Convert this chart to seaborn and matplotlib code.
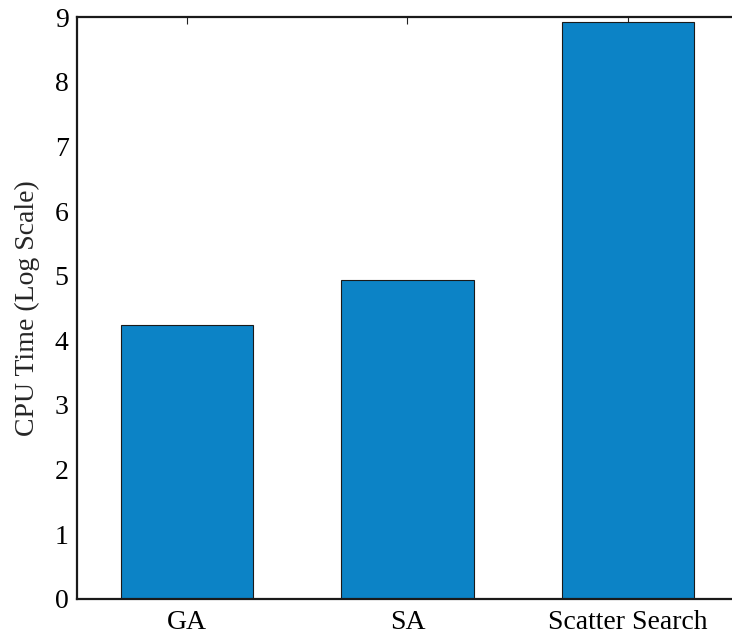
import matplotlib
matplotlib.use("Agg")
import matplotlib.pyplot as plt
import seaborn as sns
import pandas as pd

methods = ["GA", "SA", "Scatter Search"]
cpu_time_log = [4.23, 4.94, 8.93]
y_ticks = [0, 1, 2, 3, 4, 5, 6, 7, 8, 9]

sns.set_style("white")
plt.rcParams["font.family"] = ["Liberation Serif", "DejaVu Serif"]

df = pd.DataFrame({"method": methods, "time": cpu_time_log})

fig = plt.figure(figsize=(7.32, 6.38), dpi=100)
W, H = 732, 638
ax = fig.add_axes([77 / W, (H - 599) / H, (738 - 77) / W, (599 - 17) / H])

sns.barplot(data=df, x="method", y="time", color="#0C83C6", saturation=1,
            width=0.6, edgecolor="#1a1a1a", linewidth=0.8, ax=ax)

ax.set_xlim(-0.5, 2.5)
ax.set_ylim(0, 9)
ax.set_yticks(y_ticks)
ax.set_xlabel("")
ax.set_ylabel("CPU Time (Log Scale)", fontsize=20, labelpad=11)
ax.tick_params(axis="both", direction="in", length=5, width=0.8,
               labelsize=20, top=True, right=False, colors="#222222",
               labelcolor="black")
ax.tick_params(axis="x", pad=8)
ax.tick_params(axis="y", pad=6)
for s in ax.spines.values():
    s.set_visible(True)
    s.set_color("#1a1a1a")
    s.set_linewidth(1.6)

fig.savefig("out.png", dpi=100)
